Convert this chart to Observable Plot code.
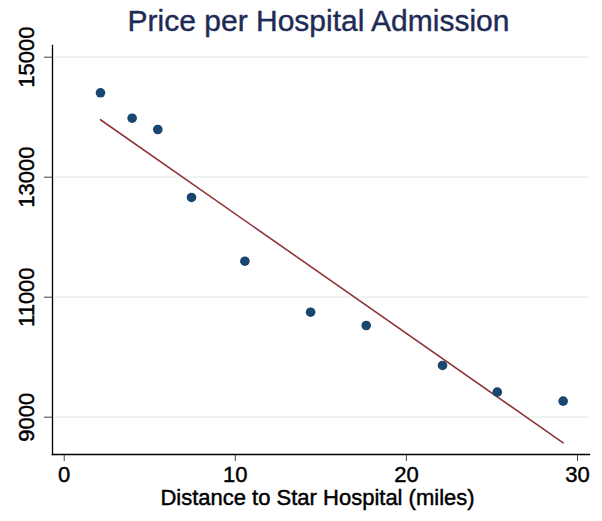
<!DOCTYPE html>
<html>
<head>
<meta charset="utf-8">
<script src="https://cdn.jsdelivr.net/npm/d3@7"></script>
<script src="https://cdn.jsdelivr.net/npm/@observablehq/plot@0.6"></script>
<style>
  html, body { margin: 0; padding: 0; background: #fff; }
  #wrap { position: relative; width: 602px; height: 521px; overflow: hidden; }
  #chart { position: absolute; left: 0; top: 0; }
  #title { position: absolute; left: 318.5px; top: 6.3px; transform: translateX(-50%);
           font-family: "Liberation Sans", Arial, sans-serif; font-size: 30px; line-height: 30px;
           white-space: nowrap; color: #1e2b55; -webkit-text-stroke: 0.4px #1e2b55; z-index: 2; }
  #chart text { stroke: #000; stroke-width: 0.45px; }
</style>
</head>
<body>
<div id="wrap">
  <div id="chart"></div>
  <div id="title">Price per Hospital Admission</div>
</div>
<script>
// Data
const distance = [2.12, 3.97, 5.47, 7.44, 10.56, 14.40, 17.65, 22.11, 25.31, 29.16];
const price    = [14407, 13983, 13795, 12662, 11600, 10750, 10528, 9862, 9417, 9267];
const fitDistance = [2.12, 29.16];
const fitPrice    = [13957, 8573];
const xTicks = [0, 10, 20, 30];
const yTicks = [9000, 11000, 13000, 15000];
const xTitle = "Distance to Star Hospital (miles)";

const points = distance.map((d, i) => ({distance: d, price: price[i]}));
const fit = fitDistance.map((d, i) => ({distance: d, price: fitPrice[i]}));

const plot = Plot.plot({
  width: 602,
  height: 521,
  marginTop: 45,
  marginBottom: 67,
  marginLeft: 52,
  marginRight: 13,
  style: {fontFamily: "'Liberation Sans', Arial, sans-serif", background: "transparent", color: "#000"},
  x: {domain: [-0.684, 30.70]},
  y: {domain: [8378, 15195]},
  marks: [
    Plot.gridY(yTicks, {stroke: "#e3ecec", strokeOpacity: 1, strokeWidth: 1.3}),
    Plot.axisY(yTicks, {tickSize: 8, tickFormat: () => "", label: null, stroke: "#444", strokeWidth: 1}),
    Plot.text(yTicks, {y: d => d, text: d => String(d), frameAnchor: "left", rotate: -90,
                       textAnchor: "middle", lineAnchor: "bottom", dx: -18.6, fontSize: 22, fill: "#000"}),
    Plot.axisX(xTicks, {tickSize: 7, tickPadding: 5, fontSize: 22, label: null, stroke: "#444", strokeWidth: 1, fill: "#000"}),
    Plot.frame({anchor: "left", stroke: "#000", strokeWidth: 1.3}),
    Plot.frame({anchor: "bottom", stroke: "#000", strokeWidth: 1.3}),
    Plot.line(fit, {x: "distance", y: "price", stroke: "#90353b", strokeWidth: 1.6}),
    Plot.dot(points, {x: "distance", y: "price", r: 4.8, fill: "#1a476f", stroke: "none"}),
    Plot.text([xTitle], {text: d => d, frameAnchor: "bottom", lineAnchor: "top", dy: 35, dx: -3.5, fontSize: 22, fill: "#000"})
  ]
});
document.getElementById("chart").appendChild(plot);
</script>
</body>
</html>
